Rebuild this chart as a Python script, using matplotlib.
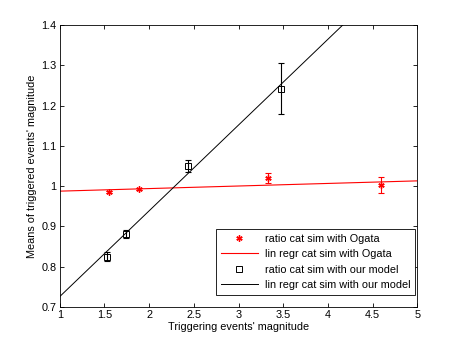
import numpy as np
import matplotlib
matplotlib.use("Agg")
import matplotlib.pyplot as plt

plt.rcParams["font.family"] = ["Liberation Sans", "DejaVu Sans"]
plt.rcParams["font.size"] = 7.8

# Ogata simulation ratios
ogata_x = [1.55, 1.89, 3.33, 4.60]
ogata_y = [0.986, 0.993, 1.020, 1.003]
ogata_err = [0.003, 0.003, 0.012, 0.019]
ogata_fit = [0.9875, 1.0130]  # values at x = 1 and x = 5

# our model simulation ratios
model_x = [1.53, 1.74, 2.44, 3.47]
model_y = [0.825, 0.880, 1.051, 1.242]
model_err = [0.012, 0.010, 0.015, 0.063]
model_fit = [0.726, 1.577]  # values at x = 1 and x = 5

fit_x = [1, 5]

fig = plt.figure(figsize=(4.6, 3.46), dpi=100)
ax = fig.add_axes([0.130, 0.1127, 0.777, 0.8153])

ax.errorbar(ogata_x, ogata_y, yerr=ogata_err, fmt="none", ecolor="red",
            elinewidth=0.8, capsize=2, capthick=0.8)
ax.plot(ogata_x, ogata_y, linestyle="none", marker=(6, 2, 0), color="red",
        markersize=4.5, markeredgewidth=1.0, label="ratio cat sim with Ogata")
ax.plot(fit_x, ogata_fit, color="red", linewidth=0.8,
        label="lin regr cat sim with Ogata")

ax.errorbar(model_x, model_y, yerr=model_err, fmt="none", ecolor="black",
            elinewidth=0.8, capsize=2, capthick=0.8)
ax.plot(model_x, model_y, linestyle="none", marker="s", markerfacecolor="none",
        markeredgecolor="black", markersize=4.5, markeredgewidth=0.7,
        label="ratio cat sim with our model")
ax.plot(fit_x, model_fit, color="black", linewidth=0.7,
        label="lin regr cat sim with our model")

ax.set_xlim(1, 5)
ax.set_ylim(0.7, 1.4)
ax.set_xticks(np.arange(1, 5.01, 0.5))
ax.set_xticklabels(["1", "1.5", "2", "2.5", "3", "3.5", "4", "4.5", "5"])
ax.set_yticks(np.arange(0.7, 1.401, 0.1))
ax.set_yticklabels(["0.7", "0.8", "0.9", "1", "1.1", "1.2", "1.3", "1.4"])
ax.tick_params(direction="in", top=True, right=True, length=3, width=0.6,
               pad=2.5)
for s in ax.spines.values():
    s.set_linewidth(0.6)

ax.set_xlabel("Triggering events' magnitude", labelpad=1)
ax.set_ylabel("Means of triggered events' magnitude", labelpad=3)

leg = ax.legend(loc="lower right", bbox_to_anchor=(0.995, 0.043),
                borderaxespad=0, fancybox=False, edgecolor="black",
                framealpha=1, handlelength=3.5, borderpad=0.45,
                labelspacing=0.5, handletextpad=0.6)
leg.get_frame().set_linewidth(0.6)

plt.savefig("out.png", dpi=100)
